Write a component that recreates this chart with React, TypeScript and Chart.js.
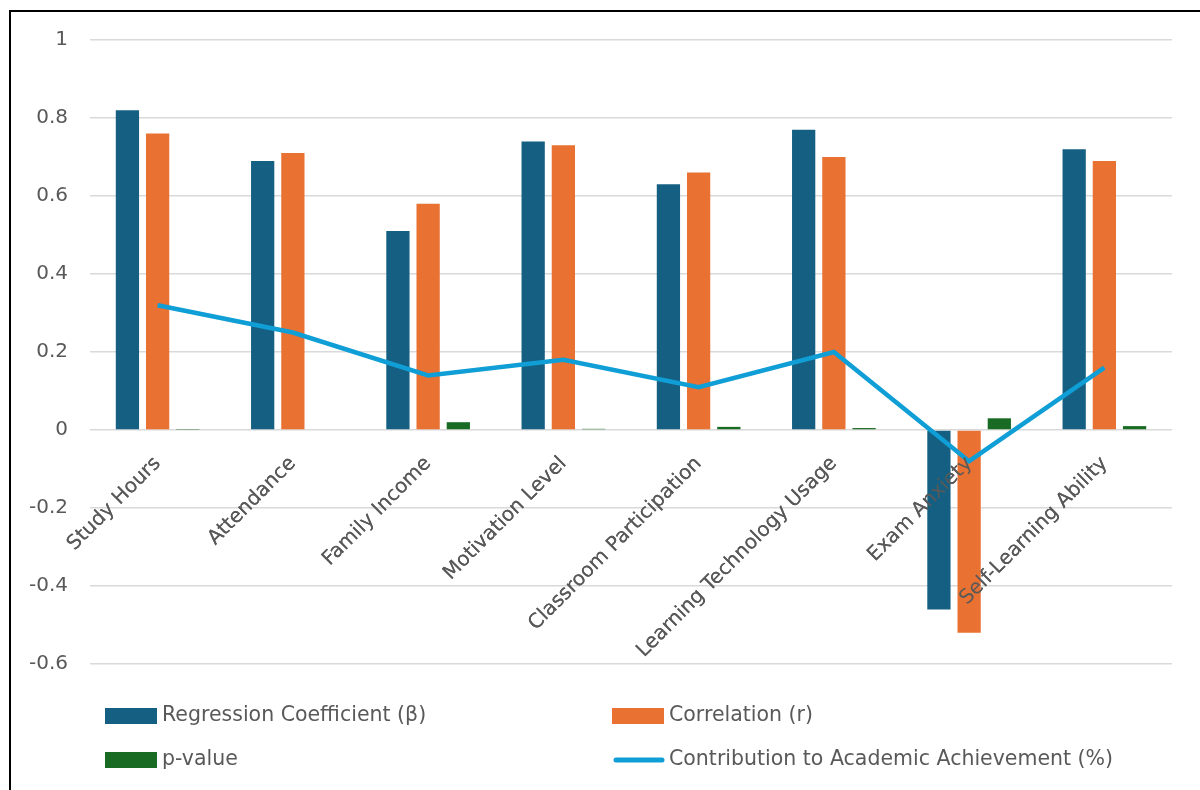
import React, { useEffect, useRef } from "react";
import { Chart, registerables } from "chart.js";
Chart.register(...registerables);

const categories = [
  "Study Hours",
  "Attendance",
  "Family Income",
  "Motivation Level",
  "Classroom Participation",
  "Learning Technology Usage",
  "Exam Anxiety",
  "Self-Learning Ability",
];
const regressionCoefficient = [0.82, 0.69, 0.51, 0.74, 0.63, 0.77, -0.46, 0.72];
const correlation = [0.76, 0.71, 0.58, 0.73, 0.66, 0.7, -0.52, 0.69];
const pValue = [0.001, 0.002, 0.02, 0.003, 0.008, 0.005, 0.03, 0.01];
const contribution = [0.32, 0.25, 0.14, 0.18, 0.11, 0.2, -0.08, 0.16];
const yTicks = [1, 0.8, 0.6, 0.4, 0.2, 0, -0.2, -0.4, -0.6];

const FONT = "'DejaVu Sans', 'Liberation Sans', sans-serif";
const TEXT = "#595959";
const FS = 20;

export default function App() {
  const ref = useRef<HTMLCanvasElement>(null);
  useEffect(() => {
    document.body.style.overflow = "hidden";
    const labelsOnTop = {
      id: "labelsOnTop",
      afterDatasetsDraw(chart: any) {
        try {
          const xs = chart.scales.x;
          chart.ctx.save();
          xs.drawLabels(chart.chartArea);
          chart.ctx.restore();
        } catch (e) {
          /* ignore */
        }
      },
    };
    const legendPlugin = {
      id: "gridLegend",
      afterDraw(chart: any) {
        const ctx = chart.ctx as CanvasRenderingContext2D;
        const ds = chart.data.datasets;
        const cols = [94, 601];
        const rows = [704, 748];
        const order = [0, 1, 2, 3];
        ctx.save();
        ctx.font = `20.5px ${FONT}`;
        ctx.textBaseline = "middle";
        ctx.textAlign = "left";
        order.forEach((di, k) => {
          const d = ds[di];
          const x = cols[k % 2];
          const y = rows[Math.floor(k / 2)];
          if (d.type === "line") {
            ctx.strokeStyle = d.borderColor;
            ctx.lineWidth = 5;
            ctx.lineCap = "round";
            ctx.beginPath();
            ctx.moveTo(x + 4, y);
            ctx.lineTo(x + 50, y);
            ctx.stroke();
          } else {
            ctx.fillStyle = d.backgroundColor;
            ctx.fillRect(x, y - 8, 52, 16);
          }
          ctx.fillStyle = TEXT;
          ctx.fillText(d.label, x + 57, y);
        });
        ctx.restore();
      },
    };
    const chart = new Chart(ref.current!, {
      type: "bar",
      data: {
        labels: categories,
        datasets: [
          {
            type: "bar",
            label: "Regression Coefficient (β)",
            data: regressionCoefficient,
            backgroundColor: "#156082",
            order: 1,
          },
          {
            type: "bar",
            label: "Correlation (r)",
            data: correlation,
            backgroundColor: "#E97132",
            order: 1,
          },
          {
            type: "bar",
            label: "p-value",
            data: pValue,
            backgroundColor: "#196B24",
            order: 1,
          },
          {
            type: "line",
            label: "Contribution to Academic Achievement (%)",
            data: contribution,
            borderColor: "#0F9ED5",
            backgroundColor: "#0F9ED5",
            borderWidth: 4.5,
            pointRadius: 0,
            tension: 0,
            order: 0,
          } as any,
        ],
      },
      options: {
        responsive: false,
        animation: false,
        datasets: {
          bar: { categoryPercentage: 0.67, barPercentage: 0.77 },
        } as any,
        layout: { padding: { top: 28, right: 28, bottom: 126, left: 0 } },
        plugins: {
          legend: { display: false },
          tooltip: { enabled: false },
        },
        scales: {
          x: {
            position: { y: 0 } as any,
            grid: { display: false },
            border: { display: false },
            ticks: {
              color: TEXT,
              font: { family: FONT, size: FS },
              minRotation: 45,
              maxRotation: 45,
              autoSkip: false,
              padding: 14,
            },
          } as any,
          y: {
            min: -0.6,
            max: 1,
            afterBuildTicks(scale: any) {
              scale.ticks = yTicks.map((v) => ({ value: v }));
            },
            afterFit(scale: any) {
              scale.width = 79;
              scale.paddingTop = 0;
              scale.paddingBottom = 0;
            },
            grid: { color: "#d9d9d9", lineWidth: 1.5, drawTicks: false },
            border: { display: false },
            ticks: {
              color: TEXT,
              font: { family: FONT, size: FS },
              padding: 22,
              callback: (v: any) => String(Math.round(Number(v) * 10) / 10),
            },
          },
        },
      },
      plugins: [labelsOnTop, legendPlugin],
    });
    return () => chart.destroy();
  }, []);
  return (
    <div
      style={{
        position: "fixed",
        left: 9,
        top: 10,
        width: 1200,
        height: 790,
        borderLeft: "2px solid #000",
        borderTop: "2px solid #000",
        background: "#fff",
      }}
    >
      <canvas ref={ref} width={1189} height={778} style={{ display: "block" }} />
    </div>
  );
}
